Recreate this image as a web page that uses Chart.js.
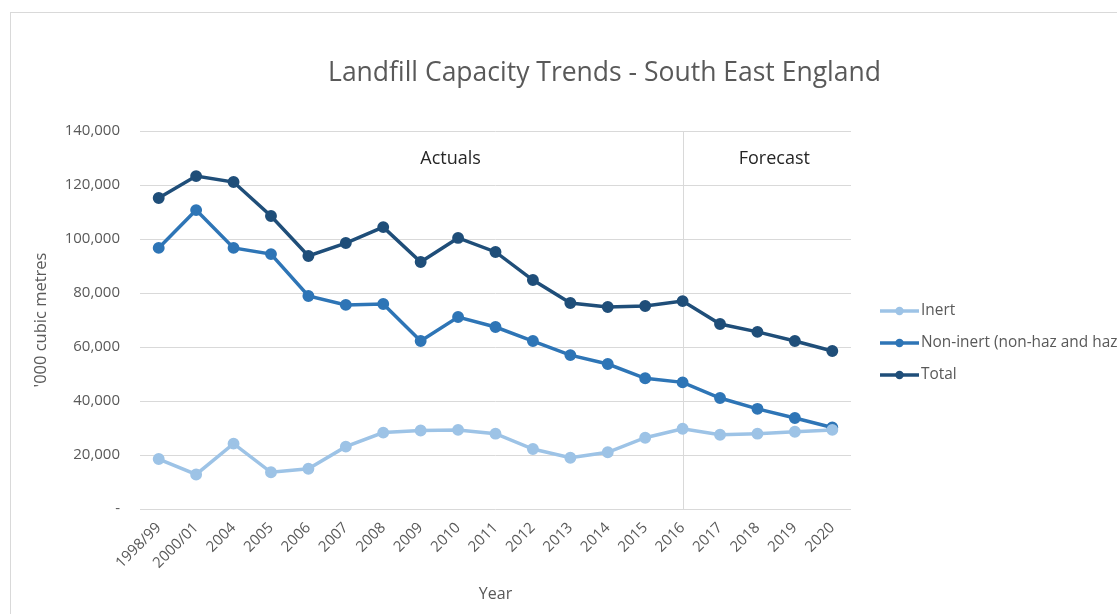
<!DOCTYPE html>
<html>
<head>
<meta charset="utf-8">
<script src="https://cdn.jsdelivr.net/npm/chart.js@4"></script>
<style>
  html, body { margin: 0; padding: 0; background: #fff; }
  #wrap { position: relative; width: 1117px; height: 614px; overflow: hidden; }
  #frame { position: absolute; left: 10px; top: 12px; width: 1200px; height: 700px; border: 1px solid #d9d9d9; box-sizing: border-box; pointer-events: none; }
  canvas { position: absolute; left: 0; top: 0; }
</style>
</head>
<body>
<div id="wrap">
  <div id="frame"></div>
  <canvas id="c" width="1117" height="614"></canvas>
</div>
<script>
const categories = ['1998/99','2000/01','2004','2005','2006','2007','2008','2009','2010','2011','2012','2013','2014','2015','2016','2017','2018','2019','2020'];
const inert = [18500,12800,24200,13600,14900,23100,28300,29100,29300,27900,22200,19000,21000,26400,29700,27500,27900,28600,29300];
const nonInert = [96700,110700,96700,94400,78900,75600,75900,62200,71100,67400,62200,57000,53700,48400,46900,41100,37100,33700,30200];
const total = [115200,123300,121100,108500,93700,98500,104400,91500,100400,95200,84800,76300,74800,75200,77000,68500,65600,62200,58500];
const seriesNames = ['Inert','Non-inert (non-haz and haz)','Total'];
const seriesColors = ['#9DC3E6','#2E75B6','#1F4E79'];
const yTicks = [0,20000,40000,60000,80000,100000,120000,140000];
const chartTitle = 'Landfill Capacity Trends - South East England';
const dividerCategory = '2016';
const annotationTexts = ['Actuals','Forecast'];
const annotationAt = [7.8, 16.45]; // category index positions of the text labels

const FONT = "'Open Sans', 'Noto Sans', sans-serif";

function makeDs(label, data, color) {
  return {
    label, data,
    borderColor: color, backgroundColor: color,
    pointBackgroundColor: color, pointBorderColor: color,
    borderWidth: 3.5, pointRadius: 4.2, pointHoverRadius: 4.2,
    tension: 0, fill: false
  };
}

const overlayPlugin = {
  id: 'overlay',
  beforeDatasetsDraw(chart) {
    const {ctx, chartArea, scales: {x}} = chart;
    const px = Math.round(x.getPixelForValue(categories.indexOf(dividerCategory))) + 0.5;
    ctx.save();
    ctx.strokeStyle = '#d9d9d9';
    ctx.lineWidth = 1;
    ctx.beginPath();
    ctx.moveTo(px, chartArea.top);
    ctx.lineTo(px, chartArea.bottom);
    ctx.stroke();
    ctx.restore();
  },
  afterDraw(chart) {
    const {ctx, chartArea, scales: {x}} = chart;
    ctx.save();
    // title
    ctx.fillStyle = '#595959';
    ctx.font = "26.5px " + FONT;
    ctx.textAlign = 'center';
    ctx.textBaseline = 'middle';
    ctx.fillText(chartTitle, 604.5, 73);
    // annotations
    ctx.fillStyle = '#262626';
    ctx.font = "18px " + FONT;
    annotationTexts.forEach((t, i) => {
      ctx.fillText(t, x.getPixelForValue(annotationAt[i]), chartArea.top + 27.5);
    });
    // legend
    const lx = chartArea.right + 29;
    let ly = 311;
    ctx.font = "15.4px " + FONT;
    ctx.textAlign = 'left';
    chart.data.datasets.forEach(ds => {
      ctx.strokeStyle = ds.borderColor;
      ctx.fillStyle = ds.borderColor;
      ctx.lineWidth = 3.5;
      ctx.beginPath();
      ctx.moveTo(lx, ly);
      ctx.lineTo(lx + 39, ly);
      ctx.stroke();
      ctx.beginPath();
      ctx.arc(lx + 19.5, ly, 4.2, 0, Math.PI * 2);
      ctx.fill();
      ctx.fillStyle = '#595959';
      ctx.fillText(ds.label, lx + 41, ly);
      ly += 32;
    });
    ctx.restore();
  }
};

new Chart(document.getElementById('c'), {
  type: 'line',
  data: {
    labels: categories,
    datasets: [
      makeDs(seriesNames[0], inert, seriesColors[0]),
      makeDs(seriesNames[1], nonInert, seriesColors[1]),
      makeDs(seriesNames[2], total, seriesColors[2])
    ]
  },
  options: {
    responsive: false,
    animation: false,
    layout: { padding: { left: 10, right: 266, top: 131, bottom: 0 } },
    plugins: {
      legend: { display: false },
      tooltip: { enabled: false },
      title: { display: false }
    },
    scales: {
      x: {
        offset: true,
        grid: { display: false },
        border: { display: false },
        ticks: {
          color: '#595959',
          font: { family: FONT, size: 15 },
          minRotation: 45, maxRotation: 45,
          autoSkip: false, padding: 2
        },
        title: {
          display: true, text: 'Year', color: '#595959',
          font: { family: FONT, size: 16, lineHeight: 1.2 },
          padding: { top: 0, bottom: 9.5 }
        },
        afterFit(s) { s.height = 105; }
      },
      y: {
        min: 0, max: 140000,
        afterBuildTicks(s) { s.ticks = yTicks.map(v => ({ value: v })); },
        grid: { color: '#d9d9d9', lineWidth: 1, drawTicks: false },
        border: { display: false },
        ticks: {
          color: '#595959',
          font: { family: FONT, size: 15 },
          padding: 20,
          callback: v => v === 0 ? '-' : v.toLocaleString('en-US')
        },
        title: {
          display: true, text: "'000 cubic metres", color: '#595959',
          font: { family: FONT, size: 16.5, lineHeight: 1.2 },
          padding: { top: 21, bottom: 0 }
        },
        afterFit(s) { s.width = 130; }
      }
    }
  },
  plugins: [overlayPlugin]
});
</script>
</body>
</html>
